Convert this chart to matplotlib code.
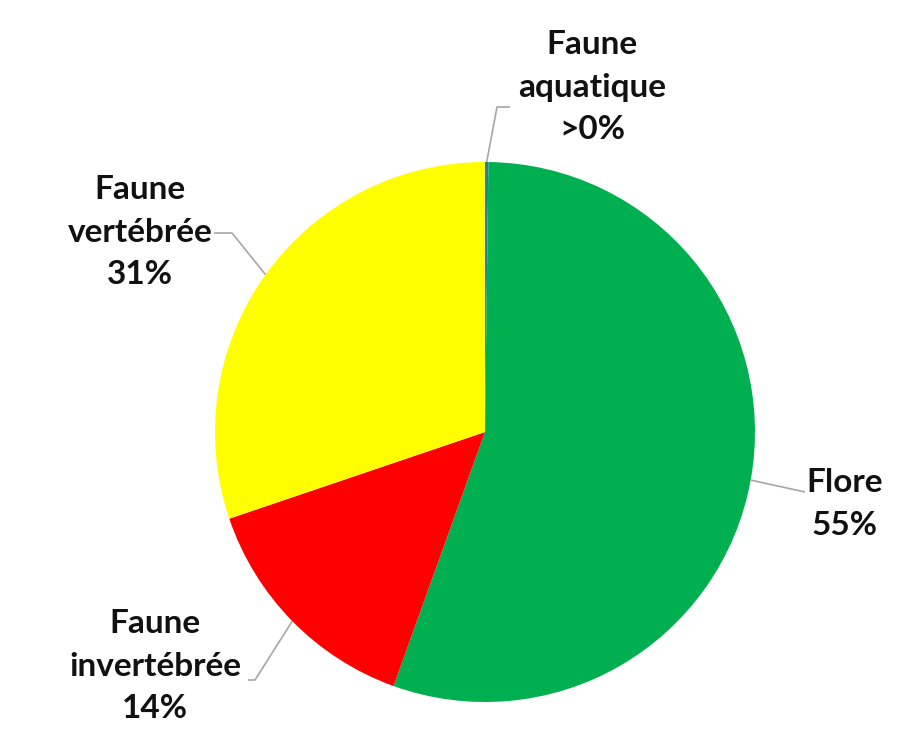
import numpy as np
import matplotlib
matplotlib.use("Agg")
import matplotlib.pyplot as plt

categories = ["Faune\naquatique", "Flore", "Faune\ninvertébrée", "Faune\nvertébrée"]
values = [0.2, 55.3, 14.3, 30.2]
pct_labels = [">0%", "55%", "14%", "31%"]
colors = ["#2E75B6", "#00B050", "#FF0000", "#FFFF00"]

W, H = 899, 732
fig = plt.figure(figsize=(W / 100, H / 100), dpi=100)
ax = fig.add_axes([0, 0, 1, 1])

cx, cy, R = 485, H - 432, 270
wedges, _ = ax.pie(values, colors=colors, startangle=90, counterclock=False,
                   center=(cx, cy), radius=R, frame=True,
                   wedgeprops=dict(linewidth=0))
ax.set_xlim(0, W)
ax.set_ylim(0, H)
ax.axis("off")

font = dict(family=["Lato", "DejaVu Sans"], fontweight="bold", fontsize=24,
            color="#111111", ha="center", va="center", linespacing=1.58)

# label text centres (pixel coords from top) and leader polylines
label_pos = [(592, 87), (845, 504), (155, 666), (140, 232)]
leaders = [
    [(497, 107), (510, 107)],
    [(805, 492)],
    [(255, 680), (248, 680)],
    [(232, 233), (214, 233)],
]

for i, w in enumerate(wedges):
    ang = np.deg2rad((w.theta1 + w.theta2) / 2)
    ex, ey = cx + R * np.cos(ang), cy + R * np.sin(ang)
    pts = [(ex, ey)] + [(x, H - y) for x, y in leaders[i]]
    xs, ys = zip(*pts)
    ax.plot(xs, ys, color="#A6A6A6", lw=1.2, solid_capstyle="butt")
    lx, ly = label_pos[i]
    ax.text(lx, H - ly, categories[i] + "\n" + pct_labels[i], **font)

fig.savefig("out.png", dpi=100, facecolor="white")
